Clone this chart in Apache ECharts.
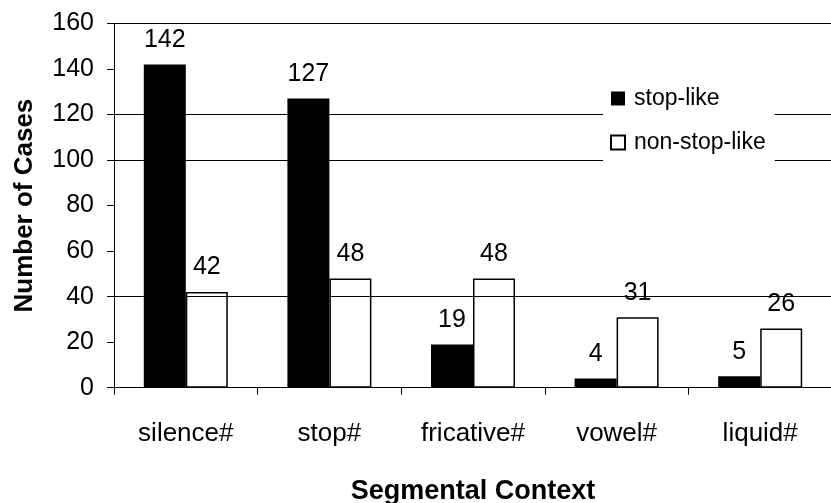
<!DOCTYPE html>
<html>
<head>
<meta charset="utf-8">
<script src="https://cdn.jsdelivr.net/npm/echarts@6/dist/echarts.min.js"></script>
<style>
  html, body { margin: 0; padding: 0; background: #fff; }
  #chart { width: 831px; height: 503px; }
</style>
</head>
<body>
<div id="chart"></div>
<script>
// Segmental contexts on the x axis
const categories = ['silence#', 'stop#', 'fricative#', 'vowel#', 'liquid#'];
// Counts per context
const stopLike = [142, 127, 19, 4, 5];
const nonStopLike = [42, 48, 48, 31, 26];
// Value axis ticks and the horizontal rules that are drawn
const yTicks = { min: 0, max: 160, interval: 20 };
const ruleValues = [40, 100, 120, 160];

const FONT = '"Liberation Sans", Arial, Helvetica, sans-serif';

const chart = echarts.init(document.getElementById('chart'), null, { renderer: 'canvas' });

chart.setOption({
  backgroundColor: '#fff',
  animation: false,
  textStyle: { fontFamily: FONT, color: '#000' },
  grid: {
    left: 114, top: 23.5, width: 718, height: 364.2,
    containLabel: false,
    outerBoundsMode: 'none'
  },
  legend: {
    orient: 'vertical',
    left: 603,
    top: 82,
    z: 10,
    padding: [5, 9, 9, 7],
    backgroundColor: '#fff',
    itemWidth: 14,
    itemHeight: 14,
    itemGap: 21,
    icon: 'rect',
    textStyle: { fontFamily: FONT, fontSize: 23, color: '#000', padding: [0, 0, 0, 4] },
    data: ['stop-like', 'non-stop-like']
  },
  xAxis: {
    type: 'category',
    data: categories,
    boundaryGap: true,
    name: 'Segmental Context',
    nameLocation: 'middle',
    nameGap: 90,
    nameTextStyle: { fontFamily: FONT, fontSize: 27, fontWeight: 'bold', color: '#000' },
    axisLine: { show: true, lineStyle: { color: '#000', width: 1 } },
    axisTick: { show: true, length: 7, lineStyle: { color: '#000', width: 1 } },
    axisLabel: { margin: 33, fontSize: 26, color: '#000', fontFamily: FONT },
    splitLine: { show: false }
  },
  yAxis: {
    type: 'value',
    min: yTicks.min,
    max: yTicks.max,
    interval: yTicks.interval,
    name: 'Number of Cases',
    nameLocation: 'middle',
    nameGap: 76,
    nameTextStyle: { fontFamily: FONT, fontSize: 26, fontWeight: 'bold', color: '#000' },
    axisLine: { show: true, lineStyle: { color: '#000', width: 1 } },
    axisTick: { show: true, length: 7, lineStyle: { color: '#000', width: 1 } },
    axisLabel: { margin: 20, fontSize: 25, color: '#000', fontFamily: FONT },
    splitLine: { show: false }
  },
  series: [
    {
      // horizontal rules sit underneath the bars
      type: 'line',
      name: 'rules',
      data: [],
      z: 0,
      silent: true,
      markLine: {
        silent: true,
        symbol: 'none',
        label: { show: false },
        lineStyle: { color: '#000', width: 1, type: 'solid' },
        data: ruleValues.map(v => ({ yAxis: v }))
      }
    },
    {
      type: 'bar',
      name: 'stop-like',
      data: stopLike,
      barWidth: 42,
      barGap: '0%',
      z: 2,
      itemStyle: { color: '#000', borderColor: '#000', borderWidth: 0 },
      label: { show: true, position: 'top', distance: 12, fontSize: 25, color: '#000', fontFamily: FONT }
    },
    {
      type: 'bar',
      name: 'non-stop-like',
      data: nonStopLike,
      barWidth: 42,
      barGap: '0%',
      z: 2,
      itemStyle: { color: '#fff', borderColor: '#000', borderWidth: 1.5 },
      label: { show: true, position: 'top', distance: 12, fontSize: 25, color: '#000', fontFamily: FONT }
    }
  ]
});
</script>
</body>
</html>
